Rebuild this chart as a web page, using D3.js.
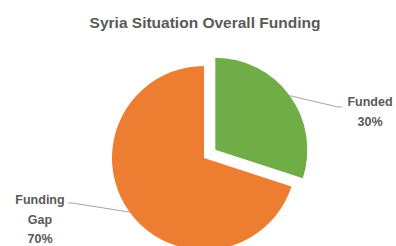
<!DOCTYPE html>
<html>
<head>
<meta charset="utf-8">
<script src="https://cdn.jsdelivr.net/npm/d3@7"></script>
<style>
  body { margin: 0; background: #fff; }
  text { font-family: "Liberation Sans", Arial, sans-serif; font-weight: bold; fill: #595959; }
</style>
</head>
<body>
<script>
const w = 396;
const h = 246;

// data
const categories = ["Funded", "Funding Gap"];
const values = [30, 70];
const labelLines = [["Funded"], ["Funding", "Gap"]];
const colors = ["#70AD47", "#ED7D31"];

const cx = 204;
const cy = 158;
const radius = 92;
const explode = [14, 0];
// where the label text sits (centre x, first baseline y) and where the leader ends
const labelPos = [
  { x: 370, y: 106, lx: 342, ly: 107 },
  { x: 40, y: 204, lx: 68, ly: 203 }
];

const svg = d3
  .select("body")
  .append("svg")
  .attr("width", w)
  .attr("height", h);

// title
svg
  .append("text")
  .attr("x", 205)
  .attr("y", 28)
  .style("text-anchor", "middle")
  .style("font-size", "15.5px")
  .text("Syria Situation Overall Funding");

const pie = d3.pie().sort(null)(values);
const arc = d3.arc().innerRadius(0).outerRadius(radius);

const g = svg.append("g").attr("transform", "translate(" + cx + "," + cy + ")");

const slices = g
  .selectAll("g.slice")
  .data(pie)
  .enter()
  .append("g")
  .attr("class", "slice")
  .attr("transform", (d, i) => {
    const a = (d.startAngle + d.endAngle) / 2;
    return "translate(" + Math.sin(a) * explode[i] + "," + -Math.cos(a) * explode[i] + ")";
  });

slices
  .append("path")
  .attr("d", arc)
  .style("fill", (d, i) => colors[i]);

// leader lines
slices.each(function(d, i) {
  const a = (d.startAngle + d.endAngle) / 2;
  const off = explode[i];
  const sx = cx + Math.sin(a) * (radius + off);
  const sy = cy - Math.cos(a) * (radius + off);
  const p = labelPos[i];
  const dir = p.x > cx ? 1 : -1;
  svg
    .append("polyline")
    .attr("points", [[sx, sy], [p.lx - 4 * dir, p.ly], [p.lx, p.ly]].map(q => q.join(",")).join(" "))
    .style("fill", "none")
    .style("stroke", "#a6a6a6")
    .style("stroke-width", 1);
});

// labels
const labels = svg
  .selectAll("text.label")
  .data(pie)
  .enter()
  .append("text")
  .attr("class", "label")
  .style("text-anchor", "middle")
  .style("font-size", "12.5px");

labels.each(function(d, i) {
  const lines = labelLines[i].concat([values[i] + "%"]);
  const t = d3.select(this);
  lines.forEach((s, k) => {
    t.append("tspan")
      .attr("x", labelPos[i].x)
      .attr("y", labelPos[i].y + k * 19.5)
      .text(s);
  });
});
</script>
</body>
</html>
